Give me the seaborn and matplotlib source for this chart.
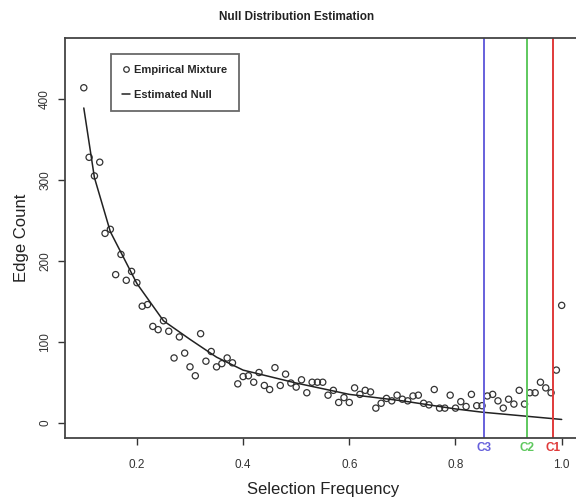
import matplotlib
matplotlib.use("Agg")
import matplotlib.pyplot as plt
import seaborn as sns
import pandas as pd
import numpy as np
from matplotlib.lines import Line2D

# =========================
# NULL DISTRIBUTION ESTIMATION
# =========================

sel_freq = [0.10, 0.11, 0.12, 0.13, 0.14, 0.15, 0.16, 0.17, 0.18, 0.19,
            0.20, 0.21, 0.22, 0.23, 0.24, 0.25, 0.26, 0.27, 0.28, 0.29,
            0.30, 0.31, 0.32, 0.33, 0.34, 0.35, 0.36, 0.37, 0.38, 0.39,
            0.40, 0.41, 0.42, 0.43, 0.44, 0.45, 0.46, 0.47, 0.48, 0.49,
            0.50, 0.51, 0.52, 0.53, 0.54, 0.55, 0.56, 0.57, 0.58, 0.59,
            0.60, 0.61, 0.62, 0.63, 0.64, 0.65, 0.66, 0.67, 0.68, 0.69,
            0.70, 0.71, 0.72, 0.73, 0.74, 0.75, 0.76, 0.77, 0.78, 0.79,
            0.80, 0.81, 0.82, 0.83, 0.84, 0.85, 0.86, 0.87, 0.88, 0.89,
            0.90, 0.91, 0.92, 0.93, 0.94, 0.95, 0.96, 0.97, 0.98, 0.99,
            1.00]
edge_count = [414, 328, 305, 322, 234, 239, 183, 208, 176, 187,
              173, 144, 146, 119, 115, 126, 113, 80, 106, 86,
              69, 58, 110, 76, 88, 69, 73, 80, 74, 48,
              57, 58, 50, 62, 46, 41, 68, 46, 60, 49,
              44, 53, 37, 50, 50, 50, 34, 40, 25, 31,
              25, 43, 35, 40, 38, 18, 24, 30, 27, 34,
              29, 27, 33, 34, 24, 22, 41, 18, 18, 34,
              18, 26, 20, 35, 21, 21, 33, 35, 27, 18,
              29, 23, 40, 23, 37, 37, 50, 43, 37, 65,
              145]

# estimated null curve
null_x = [0.10, 0.12, 0.15, 0.20, 0.25, 0.30, 0.35, 0.40, 0.50,
          0.60, 0.70, 0.80, 0.85, 0.90, 1.00]
null_y = [389, 303, 236, 172, 126, 103, 81, 65, 49,
          35, 27, 17, 13, 10, 4]

# cutoffs
cut_labels = ["C3", "C2", "C1"]
cut_values = [0.853, 0.935, 0.983]
cut_colors = ["#6660dc", "#5ec85e", "#e03a3a"]

df_pts = pd.DataFrame({"freq": sel_freq, "count": edge_count})
df_null = pd.DataFrame({"freq": null_x, "count": null_y})

sns.set_style("white")
plt.rcParams["font.family"] = ["Liberation Sans", "DejaVu Sans"]

fig = plt.figure(figsize=(5.76, 4.99), dpi=100)
ax = fig.add_axes([65 / 576, (499 - 438.3) / 499, (580.8 - 65) / 576, (438.3 - 38) / 499])

sns.lineplot(data=df_null, x="freq", y="count", color="#222222", linewidth=1.1, ax=ax)
sns.scatterplot(data=df_pts, x="freq", y="count", marker="o", s=20,
                facecolor="none", edgecolor="#333333", linewidth=0.9, ax=ax)

for lab, v, c in zip(cut_labels, cut_values, cut_colors):
    ax.axvline(v, color=c, linewidth=1.4)
    ax.text(v, -0.008, lab, transform=ax.get_xaxis_transform(), color=c,
            ha="center", va="top", fontsize=8.5, fontweight="bold")

ax.set_xlim(0.0646, 1.036)
ax.set_ylim(-19.3, 475.5)
ax.set_xticks([0.2, 0.4, 0.6, 0.8, 1.0])
ax.set_xticklabels(["0.2", "0.4", "0.6", "0.8", "1.0"])
ax.set_yticks([0, 100, 200, 300, 400])
ax.set_yticklabels(["0", "100", "200", "300", "400"], rotation=90, va="center")
ax.tick_params(axis="both", direction="out", length=5, width=1, labelsize=8.5,
               colors="#333333", bottom=True, left=True, pad=10)
ax.tick_params(axis="y", pad=5)
for sp in ax.spines.values():
    sp.set_color("#444444")
    sp.set_linewidth(1.3)

ax.set_xlabel("Selection Frequency", fontsize=12, color="#222222", labelpad=8)
ax.set_ylabel("Edge Count", fontsize=12, color="#222222", labelpad=7)
fig.text(297 / 576, 1 - 17 / 499, "Null Distribution Estimation", ha="center",
         va="center", fontsize=8.5, fontweight="bold", color="#222222")

handles = [
    Line2D([], [], marker="o", linestyle="none", markerfacecolor="none",
           markeredgecolor="#333333", markersize=4, markeredgewidth=0.9),
    Line2D([], [], color="#222222", linewidth=1.1),
]
leg = ax.legend(handles, ["Empirical Mixture", "Estimated Null"],
                loc="upper left", bbox_to_anchor=((111 - 65) / 515.8, 1 - (54 - 38) / 400.3),
                borderaxespad=0, frameon=True, fancybox=False, handlelength=0.7,
                handletextpad=0.4, borderpad=1.0, labelspacing=1.3,
                prop={"size": 8, "weight": "bold"})
leg.get_frame().set_edgecolor("#444444")
leg.get_frame().set_linewidth(1.3)

fig.savefig("out.png", dpi=100)
plt.close(fig)
